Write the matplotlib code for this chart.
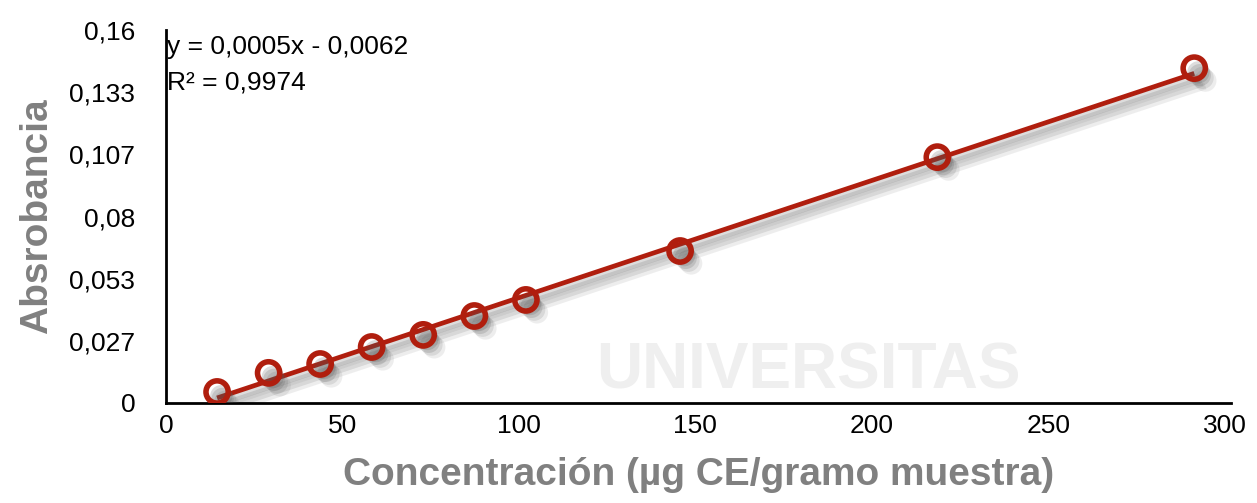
import numpy as np
import matplotlib
matplotlib.use("Agg")
import matplotlib.pyplot as plt
import matplotlib.patheffects as pe

conc = [14.5, 29.1, 43.7, 58.3, 72.9, 87.4, 102.0, 145.7, 218.6, 291.4]
absorb = [0.0047, 0.0129, 0.0167, 0.0240, 0.0292, 0.0373, 0.0442, 0.0652, 0.1055, 0.1437]
yticks = [0, 0.16/6, 2*0.16/6, 0.08, 4*0.16/6, 5*0.16/6, 0.16]
ytick_labels = ["0", "0,027", "0,053", "0,08", "0,107", "0,133", "0,16"]
xticks = [0, 50, 100, 150, 200, 250, 300]
xtick_labels = ["0", "50", "100", "150", "200", "250", "300"]
eq_text = "y = 0,0005x - 0,0062"
r2_text = "R² = 0,9974"

plt.rcParams['font.family'] = ['Liberation Sans', 'DejaVu Sans']

fig = plt.figure(figsize=(12.57, 5.03), dpi=100)
ax = fig.add_axes([0.132, 0.199, 0.847, 0.741])

# faint watermark
fig.text(0.643, 0.262, "UNIVERSITAS", fontsize=46, fontweight='bold', color='#efefef',
         ha='center', va='center', zorder=0)

red = '#B01E0E'
shadow_steps = [((3, -3), 0.20), ((4, -5), 0.18), ((6, -7), 0.14), ((8, -9), 0.10)]

def soft_shadow(lw):
    effs = [pe.SimpleLineShadow(offset=off, shadow_color='#555555', alpha=a, linewidth=lw)
            for off, a in shadow_steps]
    effs.append(pe.Normal())
    return effs

def soft_patch_shadow():
    effs = [pe.SimplePatchShadow(offset=off, shadow_rgbFace='#555555', alpha=a)
            for off, a in shadow_steps]
    effs.append(pe.Normal())
    return effs

x = np.array(conc)
y = np.array(absorb)
m, b = np.polyfit(x, y, 1)
xl = np.array([x.min(), x.max()])
ax.plot(xl, m*xl + b, color=red, lw=3.4, solid_capstyle='butt', zorder=2,
        path_effects=soft_shadow(5))
ax.plot(x, y, linestyle='none', marker='o', markersize=16, markerfacecolor='none',
        markeredgecolor=red, markeredgewidth=4.0, zorder=3,
        path_effects=soft_patch_shadow())

ax.set_xlim(0, 301.7)
ax.set_ylim(0, 0.16)
ax.set_xticks(xticks)
ax.set_xticklabels(xtick_labels)
ax.set_yticks(yticks)
ax.set_yticklabels(ytick_labels)
ax.tick_params(axis='x', length=0, labelsize=19, pad=8)
ax.tick_params(axis='y', length=0, labelsize=19, pad=22)
for s in ['top', 'right']:
    ax.spines[s].set_visible(False)
for s in ['left', 'bottom']:
    ax.spines[s].set_linewidth(2)
ax.patch.set_alpha(0)

ax.set_xlabel("Concentración (µg CE/gramo muestra)", fontsize=28, fontweight='bold',
              color='#808080', labelpad=14)
ax.set_ylabel("Absrobancia", fontsize=28, fontweight='bold', color='#808080', labelpad=10)

ax.text(0.001, 0.955, eq_text, transform=ax.transAxes, fontsize=19, va='center', ha='left')
ax.text(0.001, 0.86, r2_text, transform=ax.transAxes, fontsize=19, va='center', ha='left')

fig.savefig("out.png", dpi=100)
